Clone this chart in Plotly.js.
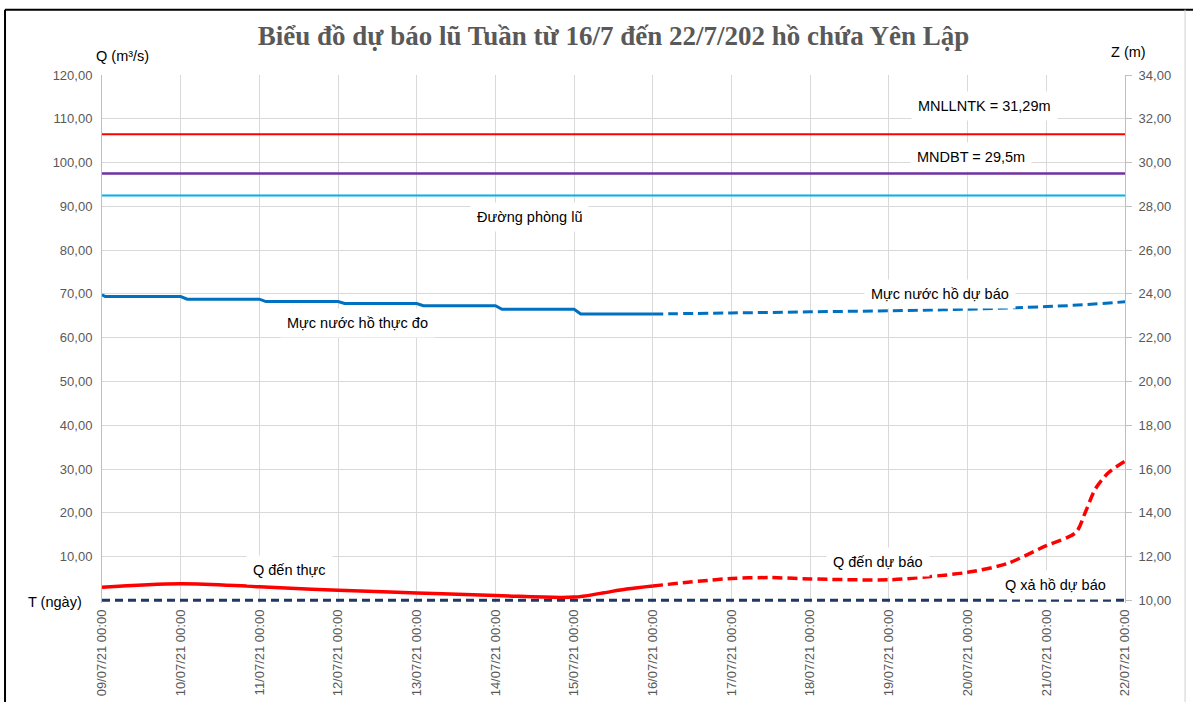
<!DOCTYPE html>
<html>
<head>
<meta charset="utf-8">
<script src="https://cdn.plot.ly/plotly-3.0.1.min.js"></script>
<style>html,body{margin:0;padding:0;background:#fff;}#chart{width:1193px;height:702px;}</style>
</head>
<body>
<div id="chart"></div>
<script>
// ---- Data ----
const chartTitle = "Biểu đồ dự báo lũ Tuần từ 16/7 đến 22/7/202 hồ chứa Yên Lập";

// Measured reservoir level Z (m) - right axis
const zMeasTime = ["2021-07-09 00:00","2021-07-09 01:00","2021-07-10 00:00","2021-07-10 02:00","2021-07-11 00:00","2021-07-11 02:00","2021-07-12 00:00","2021-07-12 02:00","2021-07-13 00:00","2021-07-13 02:00","2021-07-14 00:00","2021-07-14 02:00","2021-07-15 00:00","2021-07-15 02:00","2021-07-16 00:00"];
const zMeas     = [23.96, 23.88, 23.88, 23.76, 23.76, 23.65, 23.65, 23.56, 23.56, 23.46, 23.46, 23.30, 23.30, 23.08, 23.08];

// Forecast reservoir level Z (m)
const zFcTime = ["2021-07-16 00:00","2021-07-17 00:00","2021-07-18 00:00","2021-07-19 00:00","2021-07-20 00:00","2021-07-21 00:00","2021-07-21 12:00","2021-07-22 00:00"];
const zFc     = [23.08, 23.13, 23.18, 23.23, 23.30, 23.42, 23.51, 23.64];

// Measured inflow Q (m3/s) - left axis
const qMeasTime = ["2021-07-09 00:00","2021-07-10 00:00","2021-07-11 00:00","2021-07-12 00:00","2021-07-13 00:00","2021-07-14 00:00","2021-07-15 00:00","2021-07-15 08:00","2021-07-15 16:00","2021-07-16 00:00"];
const qMeas     = [3.0, 3.8, 3.1, 2.3, 1.7, 1.1, 0.75, 1.6, 2.6, 3.3];

// Forecast inflow Q (m3/s)
const qFcTime = ["2021-07-16 00:00","2021-07-17 00:00","2021-07-17 12:00","2021-07-18 00:00","2021-07-19 00:00","2021-07-19 12:00","2021-07-20 00:00","2021-07-20 12:00","2021-07-21 00:00","2021-07-21 09:00","2021-07-21 12:00","2021-07-21 15:00","2021-07-21 19:00","2021-07-22 00:00"];
const qFc     = [3.3, 5.0, 5.2, 4.9, 4.7, 5.4, 6.4, 8.4, 12.5, 15.5, 20.3, 25.5, 29.2, 31.8];

// Forecast outflow Q (m3/s)
const qOutTime = ["2021-07-09 00:00","2021-07-22 00:00"];
const qOut     = [0, 0];

// Reference levels Z (m)
const levelTime = ["2021-07-09 00:00","2021-07-22 00:00"];
const mnllntk = 31.29;
const mndbt = 29.5;
const phongLu = 28.5;

// Axis ticks
const qTicks = [10,20,30,40,50,60,70,80,90,100,110,120];
const zTicks = [10,12,14,16,18,20,22,24,26,28,30,32,34];
const dayTicks = ["2021-07-09","2021-07-10","2021-07-11","2021-07-12","2021-07-13","2021-07-14","2021-07-15","2021-07-16","2021-07-17","2021-07-18","2021-07-19","2021-07-20","2021-07-21","2021-07-22"];

const fmt = v => v.toFixed(2).replace('.', ',');

const traces = [
  {x: levelTime, y: [mnllntk, mnllntk], yaxis: 'y2', mode: 'lines', line: {color: '#FF0000', width: 2}, name: 'MNLLNTK'},
  {x: levelTime, y: [mndbt, mndbt], yaxis: 'y2', mode: 'lines', line: {color: '#7030A0', width: 2.5}, name: 'MNDBT'},
  {x: levelTime, y: [phongLu, phongLu], yaxis: 'y2', mode: 'lines', line: {color: '#00B0F0', width: 2}, name: 'Đường phòng lũ'},
  {x: zMeasTime, y: zMeas, yaxis: 'y2', mode: 'lines', line: {color: '#0070C0', width: 3}, name: 'Mực nước hồ thực đo'},
  {x: zFcTime, y: zFc, yaxis: 'y2', mode: 'lines', line: {color: '#0070C0', width: 3, dash: '10px,5px', shape: 'spline'}, name: 'Mực nước hồ dự báo'},
  {x: qOutTime, y: qOut, mode: 'lines', line: {color: '#1F3864', width: 3, dash: '8px,5px'}, name: 'Q xả hồ dự báo'},
  {x: qMeasTime, y: qMeas, mode: 'lines', line: {color: '#FF0000', width: 3.5, shape: 'spline', smoothing: 1}, name: 'Q đến thực'},
  {x: qFcTime, y: qFc, mode: 'lines', line: {color: '#FF0000', width: 3.5, dash: '10px,5px', shape: 'spline', smoothing: 0.8}, name: 'Q đến dự báo'}
];

const lblFont = {family: 'Liberation Sans, Arial, sans-serif', size: 14.5, color: '#000'};
function lbl(text, x, y) {
  return {text: text, x: x, y: y, xref: 'x', yref: 'y', showarrow: false, font: lblFont, bgcolor: '#ffffff', borderpad: 6};
}
const tickFont = {family: 'Liberation Sans, Arial, sans-serif', size: 13, color: '#595959'};

const layout = {
  width: 1193, height: 702,
  margin: {l: 102, r: 68, t: 75, b: 99},
  paper_bgcolor: '#ffffff', plot_bgcolor: '#ffffff',
  showlegend: false,
  separators: ', ',
  title: {text: chartTitle, x: 0.5, xref: 'paper', y: 0.949, yref: 'container', yanchor: 'middle',
          font: {family: 'Liberation Serif, Times New Roman, serif', size: 27, color: '#595959', weight: 'bold'}},
  xaxis: {
    type: 'date', range: ['2021-07-09 00:00', '2021-07-22 00:00'],
    tickvals: dayTicks, tickformat: '%d/%m/%y %H:%M', tickangle: -90,
    showgrid: true, gridcolor: '#d9d9d9', gridwidth: 1,
    showline: false, zeroline: false, ticks: '', ticklabelstandoff: 3,
    tickfont: tickFont
  },
  yaxis: {
    range: [-0.6, 120], tickvals: qTicks, ticktext: qTicks.map(fmt),
    showgrid: true, gridcolor: '#d9d9d9', gridwidth: 1, zeroline: false,
    showline: true, linecolor: '#bfbfbf', linewidth: 1, ticks: '', ticklabelstandoff: 6,
    tickfont: tickFont
  },
  yaxis2: {
    overlaying: 'y', side: 'right', range: [9.88, 34], tickvals: zTicks, ticktext: zTicks.map(fmt),
    showgrid: false, zeroline: false, showline: true, linecolor: '#bfbfbf', linewidth: 1,
    ticks: 'outside', ticklen: 6, tickcolor: '#bfbfbf', ticklabelstandoff: 4,
    tickfont: tickFont
  },
  annotations: [
    lbl('MNLLNTK = 31,29m', '2021-07-20 05:15', 112.9),
    lbl('MNDBT = 29,5m', '2021-07-20 01:00', 101.3),
    lbl('Đường phòng lũ', '2021-07-14 10:30', 87.5),
    lbl('Mực nước hồ dự báo', '2021-07-19 15:30', 69.9),
    lbl('Mực nước hồ thực đo', '2021-07-12 05:50', 63.3),
    lbl('Q đến thực', '2021-07-11 09:20', 6.9),
    lbl('Q đến dự báo', '2021-07-18 20:40', 8.7),
    lbl('Q xả hồ dự báo', '2021-07-21 02:40', 3.4),
    {text: 'Q (m³/s)', xref: 'paper', yref: 'paper', x: 0.0196, y: 1.036, xanchor: 'center', yanchor: 'middle', showarrow: false, font: lblFont},
    {text: 'Z (m)', xref: 'paper', yref: 'paper', x: 1.003, y: 1.044, xanchor: 'center', yanchor: 'middle', showarrow: false, font: lblFont},
    {text: 'T (ngày)', xref: 'paper', yref: 'paper', x: -0.046, y: 0.0011, xanchor: 'center', yanchor: 'middle', showarrow: false, font: lblFont}
  ],
  shapes: [
    {type: 'line', xref: 'paper', yref: 'paper', x0: -0.0948, x1: -0.0948, y0: 1.1238, y1: -0.2, line: {color: '#000', width: 2}},
    {type: 'line', xref: 'paper', yref: 'paper', x0: -0.0948, x1: 1.07, y0: 1.1238, y1: 1.1238, line: {color: '#000', width: 2}},
    {type: 'line', xref: 'paper', yref: 'paper', x0: 1.0587, x1: 1.0587, y0: 1.1238, y1: -0.2, line: {color: '#d0d0d0', width: 1}}
  ]
};

Plotly.newPlot('chart', traces, layout, {displayModeBar: false, staticPlot: true});
</script>
</body>
</html>
